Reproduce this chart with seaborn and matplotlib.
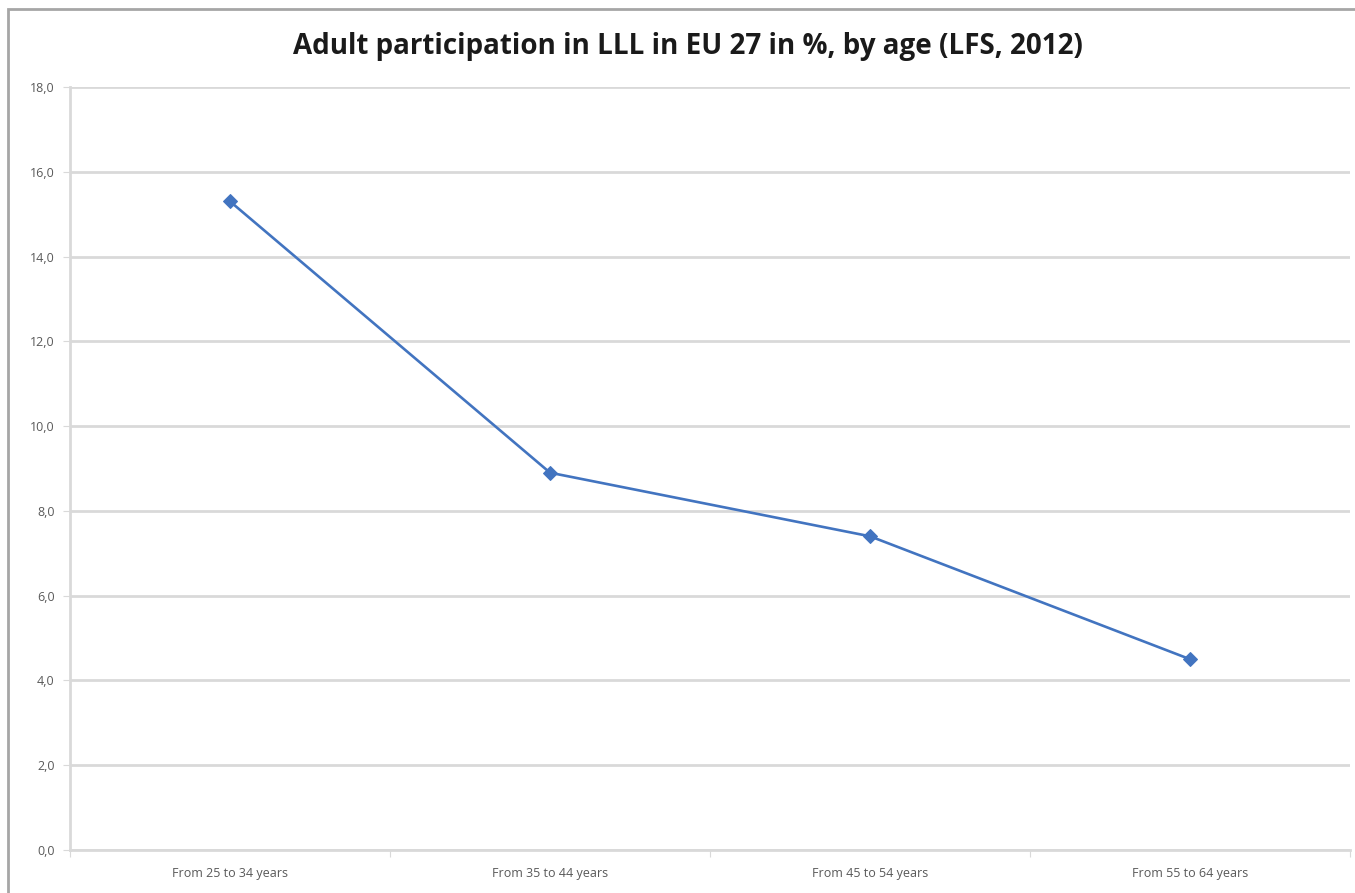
import pandas as pd
import seaborn as sns
import matplotlib.pyplot as plt
from matplotlib.patches import Rectangle

age_groups = ["From 25 to 34 years", "From 35 to 44 years",
              "From 45 to 54 years", "From 55 to 64 years"]
participation = [15.3, 8.9, 7.4, 4.5]

df = pd.DataFrame({"age": age_groups, "pct": participation})

sns.set_style("white")
plt.rcParams['font.family'] = ['Open Sans', 'DejaVu Sans']

fig = plt.figure(figsize=(13.55, 8.93), dpi=100)
ax = fig.add_axes([0.0517, 0.0482, 0.9446, 0.8544])

# outer chart frame
fig.patches.append(Rectangle((0.006, -0.01), 1.2, 1.0, transform=fig.transFigure,
                             fill=False, edgecolor='#a6a6a6', linewidth=2))

sns.lineplot(data=df, x="age", y="pct", ax=ax, color='#4274c0', linewidth=1.9,
             marker='D', markersize=7, markeredgecolor='#4274c0', sort=False)

ax.set_ylim(0, 18)
ax.set_xlim(-0.5, 3.5)
ax.set_yticks(range(0, 19, 2))
ax.set_yticklabels([f"{v:.1f}".replace('.', ',') for v in range(0, 19, 2)])
ax.yaxis.grid(True, color='#d9d9d9', linewidth=2)
ax.set_axisbelow(True)

# x ticks at category boundaries, labels at centres
ax.set_xticks([-0.5, 0.5, 1.5, 2.5, 3.5])
ax.set_xticklabels([])
ax.set_xticks(range(4), minor=True)
ax.set_xticklabels(age_groups, minor=True)
ax.tick_params(axis='x', which='major', length=5, color='#d9d9d9', direction='out', bottom=True)
ax.tick_params(axis='x', which='minor', length=0, pad=12, labelsize=9, labelcolor='#595959')
ax.tick_params(axis='y', length=5, color='#d9d9d9', left=True, labelsize=9, labelcolor='#595959', pad=6)

for s in ['top', 'right']:
    ax.spines[s].set_visible(False)
ax.spines['left'].set_color('#d9d9d9')
ax.spines['left'].set_linewidth(2)
ax.spines['bottom'].set_color('#d9d9d9')
ax.spines['bottom'].set_linewidth(2)

ax.set_xlabel('')
ax.set_ylabel('')
fig.text(0.508, 0.948, "Adult participation in LLL in EU 27 in %, by age (LFS, 2012)",
         ha='center', va='center', fontsize=20, fontweight='bold', color='#1a1a1a')

fig.savefig("out.png", dpi=100)
